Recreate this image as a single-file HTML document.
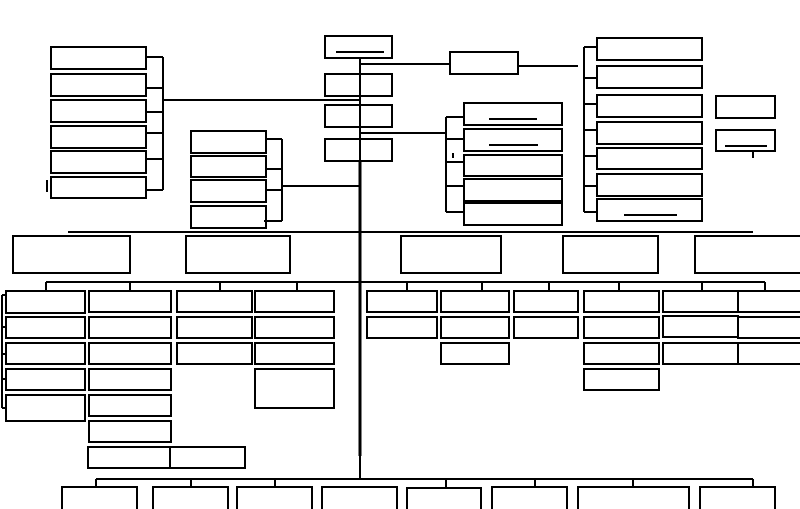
<!DOCTYPE html>
<html><head><style>html,body{margin:0;padding:0;background:#fff;width:800px;height:509px;overflow:hidden}</style></head>
<body>
<svg width="800" height="509" xmlns="http://www.w3.org/2000/svg" fill="none" stroke="#000" stroke-width="2">
<!-- left column -->
<g>
<rect x="51" y="47" width="95" height="22"/><rect x="51" y="74" width="95" height="22"/>
<rect x="51" y="100" width="95" height="22"/><rect x="51" y="126" width="95" height="22"/>
<rect x="51" y="151" width="95" height="22"/><rect x="51" y="177" width="95" height="21"/>
<path d="M163 57V190M146 57H163M146 88H163M146 112H163M146 133H163M146 159H163M146 190H163M163 100H360M47 180V192"/>
</g>
<!-- middle column -->
<rect x="191" y="131" width="75" height="22"/><rect x="191" y="156" width="75" height="21"/>
<rect x="191" y="180" width="75" height="22"/><rect x="191" y="206" width="75" height="22"/>
<path d="M282 139V221M266 139H282M266 169H282M266 190H282M264 221H282M282 186H360"/>
<!-- center -->
<rect x="325" y="36" width="67" height="22"/><path d="M336 52H384"/>
<rect x="325" y="74" width="67" height="22"/><rect x="325" y="105" width="67" height="22"/><rect x="325" y="139" width="67" height="22"/>
<path d="M360 58V161"/><path d="M360 161V456" stroke-width="3"/>
<path d="M360 64H450M518 66H578M360 133H446"/>
<rect x="450" y="52" width="68" height="22"/>
<!-- right-middle column -->
<rect x="464" y="103" width="98" height="22"/><path d="M489 119H537"/>
<rect x="464" y="129" width="98" height="22"/><path d="M489 145H538"/>
<rect x="464" y="155" width="98" height="21"/><rect x="464" y="179" width="98" height="22"/><rect x="464" y="203" width="98" height="22"/>
<path d="M446 117V212M446 117H464M446 139H464M446 162H464M446 186H464M446 212H464M453 153V158"/>
<!-- right column -->
<rect x="597" y="38" width="105" height="22"/><rect x="597" y="66" width="105" height="22"/>
<rect x="597" y="95" width="105" height="22"/><rect x="597" y="122" width="105" height="22"/>
<rect x="597" y="148" width="105" height="21"/><rect x="597" y="174" width="105" height="22"/>
<rect x="597" y="199" width="105" height="22"/><path d="M624 215H677"/>
<path d="M584 47V212M584 47H597M584 78H597M584 104H597M584 130H597M584 156H597M584 186H597M584 212H597"/>
<rect x="716" y="96" width="59" height="22"/><rect x="716" y="130" width="59" height="21"/><path d="M725 146H767M753 152V158"/>
<!-- level 2 -->
<path d="M68 232H753"/>
<rect x="13" y="236" width="117" height="37"/><rect x="186" y="236" width="104" height="37"/>
<rect x="401" y="236" width="100" height="37"/><rect x="563" y="236" width="95" height="37"/>
<rect x="695" y="236" width="110" height="37"/>
<path d="M46 282H765M46 282V291M130 282V291M220 282V291M297 282V291M407 282V291M482 282V291M549 282V291M619 282V291M702 282V291M765 282V291"/>
<!-- grid left -->
<g>
<rect x="6" y="291" width="79" height="22"/><rect x="6" y="317" width="79" height="21"/><rect x="6" y="343" width="79" height="21"/><rect x="6" y="369" width="79" height="21"/><rect x="6" y="395" width="79" height="26"/>
<path d="M2 295V408M2 295H6M2 327H6M2 354H6M2 379H6M2 408H6"/>
<rect x="89" y="291" width="82" height="21"/><rect x="89" y="317" width="82" height="21"/><rect x="89" y="343" width="82" height="21"/><rect x="89" y="369" width="82" height="21"/><rect x="89" y="395" width="82" height="21"/><rect x="89" y="421" width="82" height="21"/>
<rect x="88" y="447" width="82" height="21"/><rect x="170" y="447" width="75" height="21"/>
<rect x="177" y="291" width="75" height="21"/><rect x="177" y="317" width="75" height="21"/><rect x="177" y="343" width="75" height="21"/>
<rect x="255" y="291" width="79" height="21"/><rect x="255" y="317" width="79" height="21"/><rect x="255" y="343" width="79" height="21"/><rect x="255" y="369" width="79" height="39"/>
</g>
<!-- grid right -->
<g>
<rect x="367" y="291" width="70" height="21"/><rect x="367" y="317" width="70" height="21"/>
<rect x="441" y="291" width="68" height="21"/><rect x="441" y="317" width="68" height="21"/><rect x="441" y="343" width="68" height="21"/>
<rect x="514" y="291" width="64" height="21"/><rect x="514" y="317" width="64" height="21"/>
<rect x="584" y="291" width="75" height="21"/><rect x="584" y="317" width="75" height="21"/><rect x="584" y="343" width="75" height="21"/><rect x="584" y="369" width="75" height="21"/>
<rect x="663" y="291" width="75" height="21"/><rect x="663" y="316" width="75" height="21"/><rect x="663" y="343" width="75" height="21"/>
<rect x="738" y="291" width="70" height="21"/><rect x="738" y="317" width="70" height="21"/><rect x="738" y="343" width="70" height="21"/>
</g>
<!-- bottom -->
<path d="M360 456V479M96 479H753M96 479V487M191 479V487M275 479V487M446 479V487M535 479V487M633 479V487M753 479V487"/>
<rect x="62" y="487" width="75" height="24"/><rect x="153" y="487" width="75" height="24"/><rect x="237" y="487" width="75" height="24"/>
<rect x="322" y="487" width="75" height="24"/><rect x="407" y="488" width="74" height="24"/><rect x="492" y="487" width="75" height="24"/>
<rect x="578" y="487" width="111" height="24"/><rect x="700" y="487" width="75" height="24"/>
</svg>
</body></html>
